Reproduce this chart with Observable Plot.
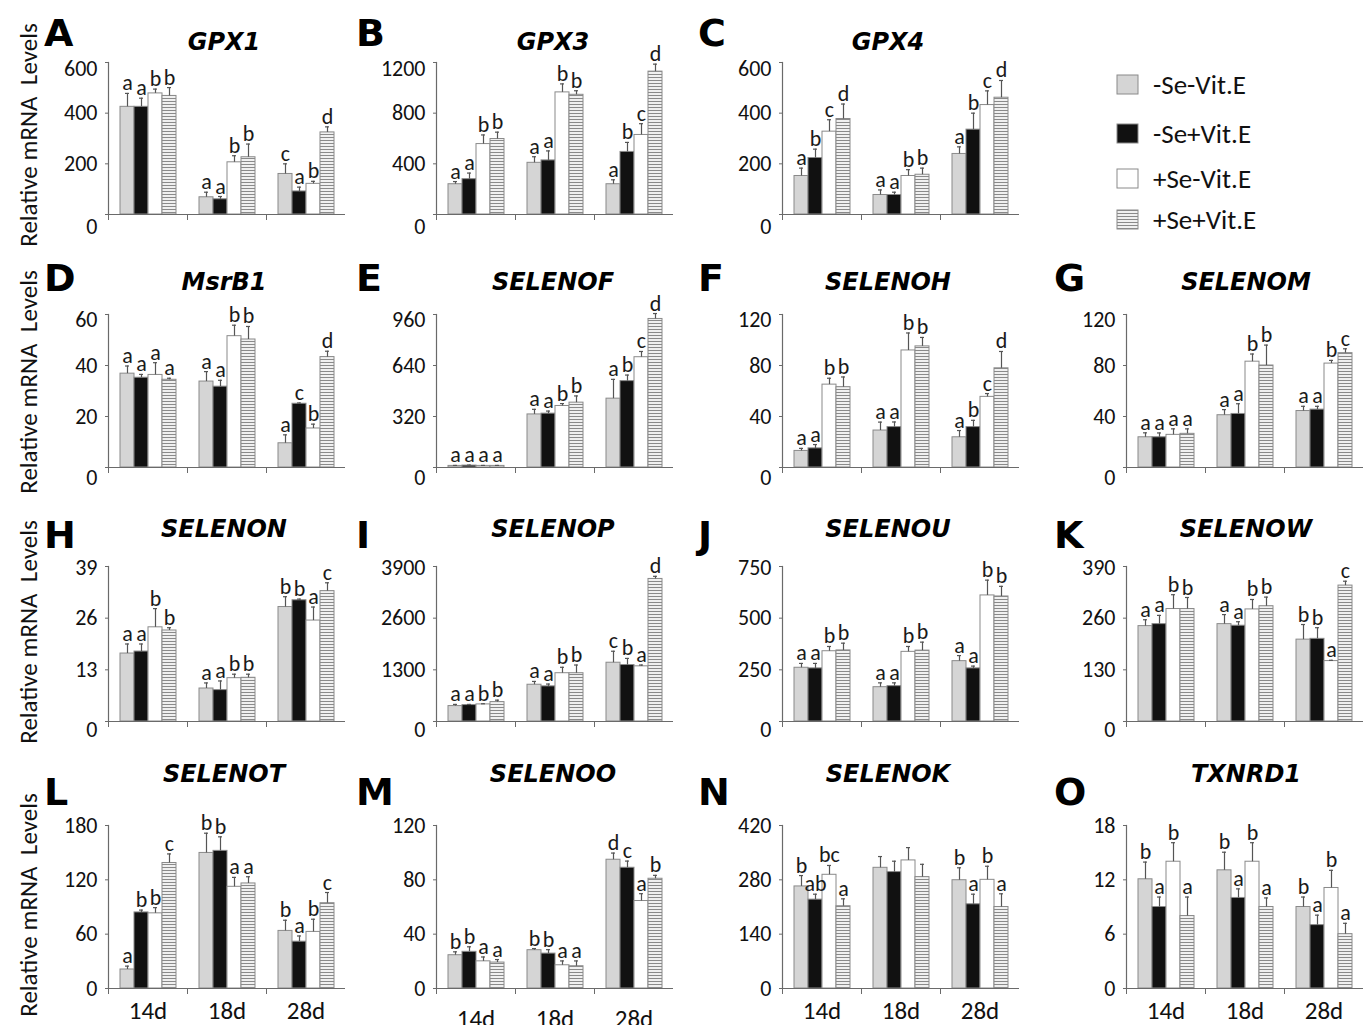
<!DOCTYPE html>
<html><head><meta charset="utf-8">
<script src="https://cdn.jsdelivr.net/npm/d3@7"></script>
<script src="https://cdn.jsdelivr.net/npm/@observablehq/plot@0.6"></script>
<style>
body{margin:0;background:#fff;}
#fig{position:relative;width:1370px;height:1025px;overflow:hidden;background:#fff;}
#fig svg.plot-panel{position:absolute;}
</style></head>
<body><div id="fig"></div>
<script>
// ---------------- data ----------------
const days = ["14d", "18d", "28d"];
const treatments = ["-Se-Vit.E", "-Se+Vit.E", "+Se-Vit.E", "+Se+Vit.E"];
const genes = ["GPX1","GPX3","GPX4","MsrB1","SELENOF","SELENOH","SELENOM","SELENON","SELENOP","SELENOU","SELENOW","SELENOT","SELENOO","SELENOK","TXNRD1"];
const panelLetters = ["A","B","C","D","E","F","G","H","I","J","K","L","M","N","O"];
const yTicks = [
  [0,200,400,600],[0,400,800,1200],[0,200,400,600],
  [0,20,40,60],[0,320,640,960],[0,40,80,120],[0,40,80,120],
  [0,13,26,39],[0,1300,2600,3900],[0,250,500,750],[0,130,260,390],
  [0,60,120,180],[0,40,80,120],[0,140,280,420],[0,6,12,18]
];
// each row: 14d [-Se-Vit.E, -Se+Vit.E, +Se-Vit.E, +Se+Vit.E], 18d [...], 28d [...]
const means = [
  [425,425,478,468, 68,60,206,226, 160,91,121,324],
  [239,279,556,596, 408,427,964,945, 239,494,628,1128],
  [152,223,327,377, 77,77,152,157, 239,335,432,461],
  [36.8,35.2,36.3,34.4, 33.7,31.7,51.5,50.2, 9.5,25.0,15.3,43.3],
  [10,12,10,10, 333,338,386,407, 432,542,692,932],
  [13,15,65,63, 29,31.7,91.8,95, 23.7,31.7,55.4,77.8],
  [23.7,23.7,25.6,26.4, 41,42,83,80, 44.3,45.4,81.5,89.7],
  [17.1,17.6,23.7,22.9, 8.3,7.9,10.9,11, 28.8,30.5,25.4,32.8],
  [388,413,430,488, 925,884,1215,1215, 1479,1421,1388,3587],
  [260,257,340,344, 166,171,337,343, 292,257,610,605],
  [240,245,283,283, 245,241,282,290, 206,208,152,342],
  [21,84,83,138.6, 149.7,152,112.3,116, 63.6,51.7,62.5,94.2],
  [24.5,27,20,19.1, 28.2,25.7,17.1,16.4, 94.8,88.9,64.4,80.8],
  [263,229,293,212, 311,300,330,287, 279,217,280,210],
  [12.06,9,14,8, 13.05,10,14,9, 9,7,11.1,6]
];
const errors = [
  [53,34,17,33, 20,11,26,52, 40,17,10,22],
  [21,48,72,54, 48,75,67,32, 35,75,89,59],
  [31,35,47,59, 20,11,25,26, 28,65,56,68],
  [3,1.3,4.8,0.6, 3.9,2.5,4.3,5.1, 3.3,0.3,1.7,2.3],
  [3,3,3,3, 32,16,15,42, 121,38,36,34],
  [2,3,5,8, 6.6,4,13.7,7, 5.3,5.3,2.6,13.2],
  [3.5,3.4,4.7,3.9, 4.4,8,6,16, 3.7,2.6,2.5,3.4],
  [2.4,1.9,4.7,0.7, 1.4,2.3,1,0.9, 2.6,0.3,3.4,2.1],
  [42,17,16,49, 83,58,149,206, 289,166,33,66],
  [21,24,23,35, 21,16,26,41, 27,11,74,49],
  [16,22,36,29, 24,10,25,23, 38,28,2,11],
  [3.7,2.6,6.3,10, 21.8,15.5,10.4,7.4, 11.8,6.3,14,11.8],
  [2.5,3.7,3.2,2.2, 1.2,2.9,3.2,3.9, 4.9,4.9,5.4,2.5],
  [28,14,24,19, 29,28,33,33, 32,26,35,34],
  [1.9,1.1,2.1,2.1, 2,1,2.1,1, 1.1,1.1,1.95,1.2]
];
const letters = [
  ["a","a","b","b", "a","a","b","b", "c","a","b","d"],
  ["a","a","b","b", "a","a","b","b", "a","b","c","d"],
  ["a","b","c","d", "a","a","b","b", "a","b","c","d"],
  ["a","a","a","a", "a","a","b","b", "a","c","b","d"],
  ["a","a","a","a", "a","a","b","b", "a","b","c","d"],
  ["a","a","b","b", "a","a","b","b", "a","b","c","d"],
  ["a","a","a","a", "a","a","b","b", "a","a","b","c"],
  ["a","a","b","b", "a","a","b","b", "b","b","a","c"],
  ["a","a","b","b", "a","a","b","b", "c","b","a","d"],
  ["a","a","b","b", "a","a","b","b", "a","a","b","b"],
  ["a","a","b","b", "a","a","b","b", "b","b","a","c"],
  ["a","b","b","c", "b","b","a","a", "b","a","b","c"],
  ["b","b","a","a", "b","b","a","a", "d","c","a","b"],
  ["b","ab","bc","a", "","","","", "b","a","b","a"],
  ["b","a","b","a", "b","a","b","a", "b","a","b","a"]
];
const yTitle = "Relative mRNA  Levels";

// ---------------- layout / style ----------------
const panelRow = [0,0,0, 1,1,1,1, 2,2,2,2, 3,3,3,3];
const panelCol = [0,1,2, 0,1,2,3, 0,1,2,3, 0,1,2,3];
const colX = [108, 435, 781, 1126];
const frameW = [237, 238, 238, 237];
const rowTop = [62, 314, 566, 825];
const rowBase = [214, 467, 721, 988];
const topDy = [6, 5, 1, 0];
const zeroDy = [12, 10, 8, 0];
const xLabPad = [13, 21, 13, 13];
const letterX = [44, 356, 698, 1054];
const letterBase = [46, 291, 548, 805];
const titleX = [224, 553, 888, 1246];
const titleBase = [50, 290, 537, 782];
const ylabCenter = [135, 382, 632, 905];
const FONT = 'Carlito, Calibri, Lato, sans-serif';
const fills = ["#d5d5d5", "#111111", "#ffffff", "url(#stripes)"];
const fmt = d => String(d);

const fig = document.getElementById("fig");

genes.forEach((g, p) => {
  const r = panelRow[p], c = panelCol[p];
  const ML = 62, MR = 4, MT = 12, MB = 42;
  const W = frameW[c];
  const h = rowBase[r] - rowTop[r];
  const rows = days.flatMap((d, di) => treatments.map((t, ti) => {
    const k = di * 4 + ti;
    return {day: d, trt: t, v: means[p][k], e: errors[p][k], lab: letters[p][k]};
  }));
  const ticks = yTicks[p];
  const top = ticks[ticks.length - 1];
  const marks = [
    Plot.barY(rows, {fx: "day", x: "trt", y: "v", fill: "trt", stroke: "#8a8a8a", strokeWidth: 1}),
    Plot.ruleX(rows, {fx: "day", x: "trt", y1: "v", y2: d => d.v + d.e, stroke: "#555", strokeWidth: 1.2}),
    Plot.tickY(rows, {fx: "day", x: "trt", y: d => d.v + d.e, stroke: "#555", strokeWidth: 1.2, insetLeft: 5, insetRight: 5}),
    Plot.text(rows, {fx: "day", x: "trt", y: d => d.v + d.e, text: "lab", dy: -3, lineAnchor: "bottom", fontSize: 22, fill: "#1a1a1a"}),
    Plot.ruleY([0], {stroke: "#6a6a6a", strokeWidth: 1.2}),
    Plot.frame({anchor: "left", facetAnchor: "left", stroke: "#6a6a6a", strokeWidth: 1.2}),
    Plot.frame({anchor: "left", insetTop: h, insetBottom: -5, stroke: "#6a6a6a"}),
    Plot.axisY(ticks, {tickSize: 3, tickFormat: () => "", stroke: "#6a6a6a", label: null}),
    Plot.axisY(ticks.slice(1, -1), {tickSize: 0, tickPadding: 11, fontSize: 22, tickFormat: fmt, label: null}),
    Plot.axisY([top], {tickSize: 0, tickPadding: 11, dy: topDy[r], fontSize: 22, tickFormat: fmt, label: null}),
    Plot.axisY([0], {tickSize: 0, tickPadding: 11, dy: zeroDy[r], fontSize: 22, tickFormat: fmt, label: null})
  ];
  if (r === 3) marks.push(Plot.axisFx({anchor: "bottom", tickSize: 0, tickPadding: xLabPad[c], fontSize: 25, label: null}));
  const chart = Plot.plot({
    width: ML + W + MR, height: MT + h + MB,
    marginLeft: ML, marginRight: MR, marginTop: MT, marginBottom: MB,
    style: {background: "transparent", overflow: "visible", fontFamily: FONT, color: "#111"},
    fx: {domain: days, padding: 0, label: null, axis: null},
    x: {domain: treatments, paddingInner: 0, paddingOuter: 0.8, axis: null},
    y: {domain: [0, top], axis: null, label: null},
    color: {domain: treatments, range: fills},
    marks
  });
  chart.classList.add("plot-panel");
  chart.style.left = (colX[c] - ML) + "px";
  chart.style.top = (rowTop[r] - MT) + "px";
  fig.appendChild(chart);
});

// ---------------- overlay: letters, titles, y titles, legend ----------------
const ov = d3.select(fig).append("svg")
  .attr("width", 1370).attr("height", 1025)
  .style("position", "absolute").style("left", 0).style("top", 0)
  .style("pointer-events", "none");
const pat = ov.append("defs").append("pattern").attr("id", "stripes")
  .attr("patternUnits", "userSpaceOnUse").attr("width", 4).attr("height", 3);
pat.append("rect").attr("width", 4).attr("height", 3).attr("fill", "#f0f0f0");
pat.append("rect").attr("width", 4).attr("height", 1).attr("fill", "#8a8a8a");

genes.forEach((g, p) => {
  const r = panelRow[p], c = panelCol[p];
  ov.append("text").attr("x", letterX[c]).attr("y", letterBase[r])
    .attr("font-family", '"DejaVu Sans", sans-serif').attr("font-weight", "bold")
    .attr("font-size", 38).attr("fill", "#000").text(panelLetters[p]);
  ov.append("text").attr("x", titleX[c]).attr("y", titleBase[r])
    .attr("text-anchor", "middle")
    .attr("font-family", '"DejaVu Sans", sans-serif').attr("font-weight", "bold").attr("font-style", "italic")
    .attr("font-size", 24).attr("fill", "#000").text(g);
});
ylabCenter.forEach(cy => {
  ov.append("text").attr("transform", `translate(37,${cy}) rotate(-90)`)
    .attr("text-anchor", "middle").attr("font-family", FONT).attr("font-size", 25)
    .attr("fill", "#111").style("white-space", "pre").text(yTitle);
});
const legY = [85, 134, 179, 220];
treatments.forEach((t, i) => {
  ov.append("rect").attr("x", 1117).attr("y", legY[i] - 10).attr("width", 21).attr("height", 19)
    .attr("fill", fills[i]).attr("stroke", "#8a8a8a").attr("stroke-width", 1);
  ov.append("text").attr("x", 1153).attr("y", legY[i] + 9)
    .attr("font-family", FONT).attr("font-size", 27).attr("fill", "#111").text(t);
});
</script>
</body></html>
